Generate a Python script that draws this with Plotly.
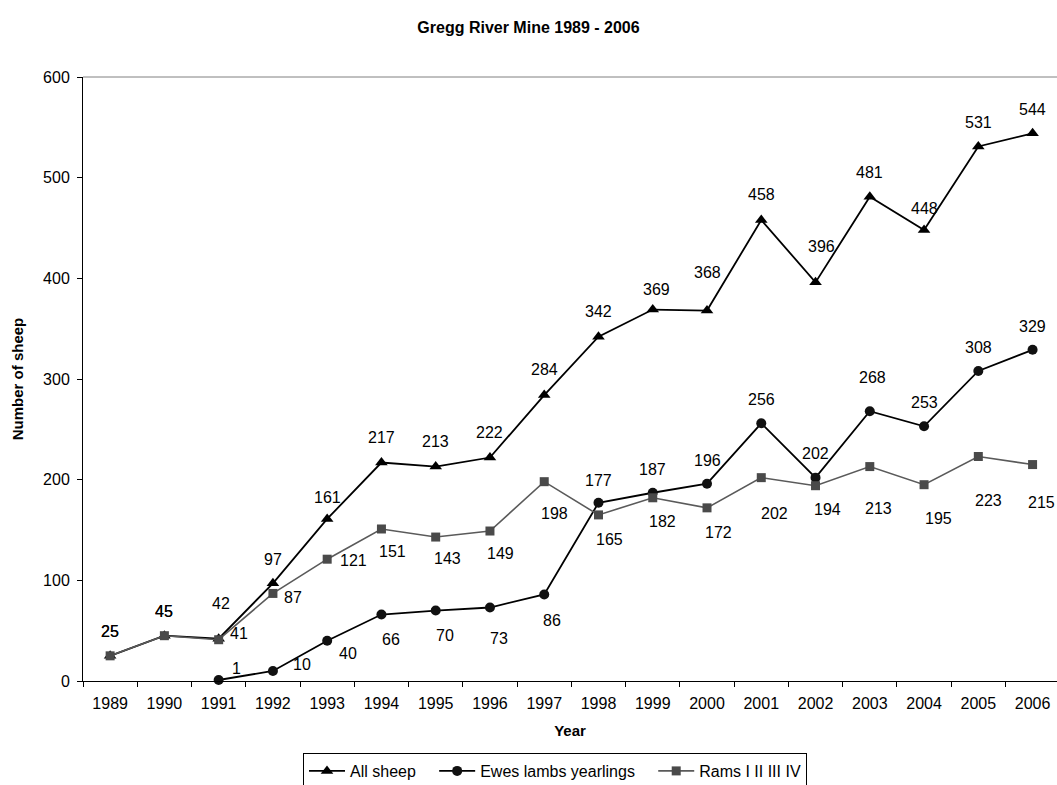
import plotly.graph_objects as go

years = [str(y) for y in range(1989, 2007)]
all_sheep = [25, 45, 42, 97, 161, 217, 213, 222, 284, 342, 369, 368, 458, 396, 481, 448, 531, 544]
ewes = [None, None, 1, 10, 40, 66, 70, 73, 86, 177, 187, 196, 256, 202, 268, 253, 308, 329]
rams = [25, 45, 41, 87, 121, 151, 143, 149, 198, 165, 182, 172, 202, 194, 213, 195, 223, 215]
y_ticks = [0, 100, 200, 300, 400, 500, 600]

# label pixel offsets (dx right, dy down), styling only
all_dx = [0, 0, 2, 0, 0, 0, 0, 0, 0, 0, 4, 0, 0, 6, 0, 0, 0, 0]
all_dy = [-24, -24, -35, -24, -21, -25, -25, -25, -26, -25, -20, -38, -25, -36, -24, -22, -24, -24]
ewe_dx = [0, 0, 18, 29, 21, 10, 9, 9, 8, 0, 0, 0, 0, 0, 3, 0, 0, 0]
ewe_dy = [0, 0, -11, -6, 13, 25, 25, 31, 26, -22, -23, -23, -24, -24, -34, -24, -23, -23]
ram_dx = [0, 0, 20, 20, 26, 11, 12, 11, 10, 11, 10, 11, 13, 12, 9, 14, 10, 9]
ram_dy = [-24, -24, -6, 4, 1, 23, 21, 22, 32, 25, 24, 25, 36, 24, 42, 34, 44, 38]

FONT = "Liberation Sans, Arial, sans-serif"
PAD = "\u00a0\u00a0\u00a0"

fig = go.Figure()
fig.add_trace(go.Scatter(
    x=years, y=all_sheep, name="All sheep" + PAD, mode="lines+markers",
    line=dict(color="#000000", width=1.8),
    marker=dict(symbol="triangle-up", size=11, color="#000000"),
    cliponaxis=False))
fig.add_trace(go.Scatter(
    x=years, y=ewes, name="Ewes lambs yearlings" + PAD, mode="lines+markers",
    line=dict(color="#000000", width=1.8),
    marker=dict(symbol="circle", size=10, color="#111111"),
    cliponaxis=False, connectgaps=False))
fig.add_trace(go.Scatter(
    x=years, y=rams, name="Rams I II III IV", mode="lines+markers",
    line=dict(color="#5a5a5a", width=1.6),
    marker=dict(symbol="square", size=9, color="#4a4a4a"),
    cliponaxis=False))

annotations = []
for series, dxs, dys in [(all_sheep, all_dx, all_dy), (ewes, ewe_dx, ewe_dy), (rams, ram_dx, ram_dy)]:
    for i, (v, dx, dy) in enumerate(zip(series, dxs, dys)):
        if v is None:
            continue
        annotations.append(dict(
            x=i, y=v, xref="x", yref="y", text=str(v), showarrow=False,
            xshift=dx, yshift=-dy, font=dict(family=FONT, size=16, color="#000000")))

fig.update_layout(
    width=1057, height=785,
    margin=dict(l=83, r=0, t=77, b=104, autoexpand=False),
    paper_bgcolor="white", plot_bgcolor="white",
    font=dict(family=FONT, size=16, color="#000000"),
    title=dict(text="<b>Gregg River Mine 1989 - 2006</b>", x=0.5, xref="container", xanchor="center",
               y=1 - 27 / 785, yref="container", yanchor="middle",
               font=dict(family=FONT, size=16, color="#000000")),
    xaxis=dict(type="category", range=[-0.5, 17.45], showline=True, linecolor="#000000", linewidth=1,
               ticks="outside", ticklen=5, tickcolor="#000000", tickson="boundaries",
               showgrid=False, zeroline=False, ticklabelstandoff=8, automargin=False,
               tickfont=dict(family=FONT, size=16),
               title=dict(text="<b>Year</b>", standoff=14, font=dict(family=FONT, size=15))),
    yaxis=dict(range=[0, 600], tickvals=y_ticks, showline=True, linecolor="#000000", linewidth=1,
               ticks="outside", ticklen=5, tickcolor="#000000", showgrid=False, zeroline=False,
               ticklabelstandoff=4, automargin=False, tickfont=dict(family=FONT, size=16),
               title=dict(text="<b>Number of sheep</b>", standoff=15, font=dict(family=FONT, size=15))),
    legend=dict(orientation="h", x=(303 - 83) / 974, xanchor="left",
                yref="container", y=1 - 753 / 785, yanchor="top",
                bordercolor="#000000", borderwidth=1, bgcolor="white",
                font=dict(family=FONT, size=16, color="#000000"), itemwidth=36,
                tracegroupgap=0),
    shapes=[dict(type="line", xref="paper", yref="paper", x0=0, x1=1, y0=1, y1=1,
                 line=dict(color="#808080", width=1))],
    annotations=annotations,
    showlegend=True,
)

fig.write_html("out.html")
